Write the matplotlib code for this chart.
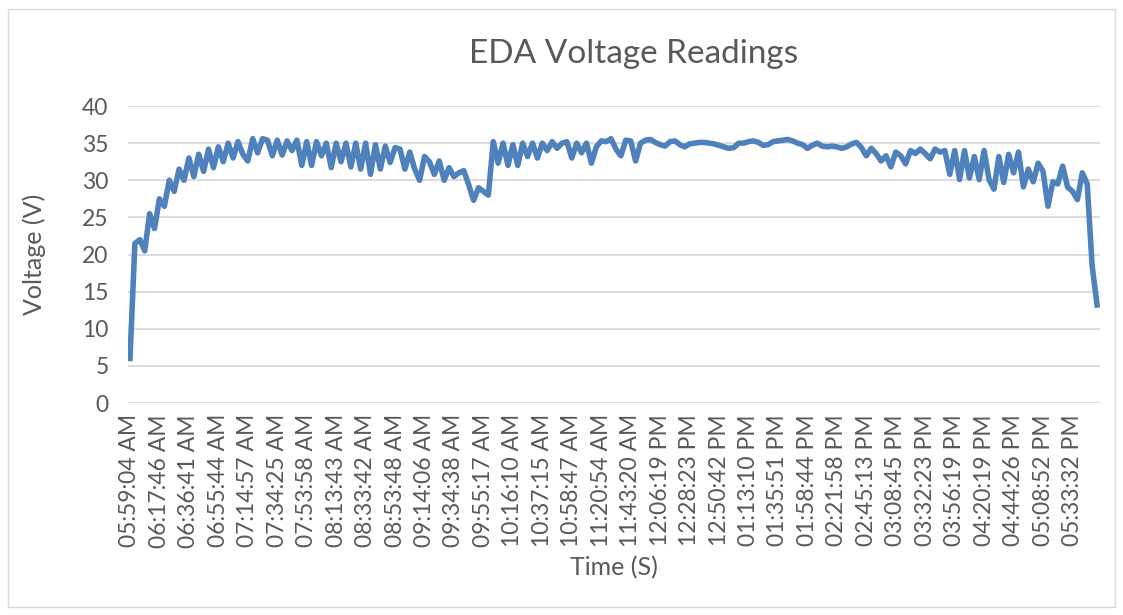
import matplotlib
matplotlib.use("Agg")
import matplotlib.pyplot as plt
from matplotlib.patches import Rectangle

# EDA readings, one value per sample
voltage = [
    6, 21.5, 22, 20.5, 25.5, 23.5, 27.5, 26.5, 30, 28.5,
    31.5, 30, 33, 30.5, 33.5, 31.2, 34.2, 31.7, 34.5, 32.5,
    35, 33, 35.2, 33.5, 32.6, 35.6, 33.7, 35.6, 35.4, 33.3,
    35.4, 33.4, 35.3, 34, 35.4, 32, 35.2, 32, 35.2, 33.3,
    35, 31.7, 35, 32.5, 35, 31.8, 35, 31.5, 35, 30.8,
    34.8, 31.5, 34.6, 32.4, 34.4, 34.2, 31.5, 33.8, 31.5, 30,
    33.2, 32.5, 30.8, 32.6, 30, 31.7, 30.5, 31, 31.3, 29.4,
    27.3, 29, 28.5, 28, 35.2, 32.3, 35, 32, 34.8, 32,
    35, 33.2, 35, 33, 35, 34, 35.2, 34.3, 35, 35.2,
    33, 35, 33.7, 35, 32.3, 34.5, 35.3, 35.2, 35.6, 34.2,
    33.3, 35.4, 35.3, 32.6, 35, 35.4, 35.5, 35.1, 34.8, 34.6,
    35.2, 35.3, 34.8, 34.5, 34.9, 35, 35.1, 35.1, 35, 34.9,
    34.7, 34.5, 34.3, 34.4, 35, 35, 35.2, 35.3, 35.1, 34.7,
    34.8, 35.2, 35.3, 35.4, 35.5, 35.3, 35, 34.8, 34.3, 34.7,
    35, 34.6, 34.5, 34.6, 34.5, 34.3, 34.5, 34.9, 35.1, 34.4,
    33.3, 34.3, 33.6, 32.6, 33.3, 31.8, 33.8, 33.3, 32.2, 34,
    33.6, 34.2, 33.6, 32.9, 34.2, 33.8, 34, 30.8, 34, 30.1,
    34, 30.3, 33.2, 30.1, 34, 30.1, 28.8, 33.2, 29.7, 33.5,
    31, 33.8, 29.1, 31.5, 29.8, 32.3, 31.2, 26.5, 29.8, 29.5,
    31.9, 29.1, 28.5, 27.4, 31, 29.5, 18.5, 13.2,
]

time_labels = [
    "05:59:04 AM", "06:17:46 AM", "06:36:41 AM", "06:55:44 AM", "07:14:57 AM",
    "07:34:25 AM", "07:53:58 AM", "08:13:43 AM", "08:33:42 AM", "08:53:48 AM",
    "09:14:06 AM", "09:34:38 AM", "09:55:17 AM", "10:16:10 AM", "10:37:15 AM",
    "10:58:47 AM", "11:20:54 AM", "11:43:20 AM", "12:06:19 PM", "12:28:23 PM",
    "12:50:42 PM", "01:13:10 PM", "01:35:51 PM", "01:58:44 PM", "02:21:58 PM",
    "02:45:13 PM", "03:08:45 PM", "03:32:23 PM", "03:56:19 PM", "04:20:19 PM",
    "04:44:26 PM", "05:08:52 PM", "05:33:32 PM",
]
label_step = 6

plt.rcParams['font.family'] = ['Lato', 'DejaVu Sans']
grey = '#595959'

fig = plt.figure(figsize=(11.23, 6.15), dpi=100)
ax = fig.add_axes([0.114, 0.3447, 0.8655, 0.4829])

x = list(range(len(voltage)))
ax.plot(x, voltage, color='#4f81bd', lw=4, solid_joinstyle='round')

ax.set_ylim(0, 40)
ax.set_yticks(range(0, 41, 5))
ax.set_xlim(-0.4, len(voltage) - 0.4)
ax.set_xticks(range(0, len(time_labels) * label_step, label_step))
ax.set_xticklabels(time_labels, rotation=90)
ax.tick_params(axis='both', length=0, colors=grey, labelsize=16.5)
ax.tick_params(axis='y', pad=14)
ax.tick_params(axis='x', pad=8)
ax.grid(axis='y', color='#d9d9d9', lw=1.3)
ax.set_axisbelow(True)
for s in ax.spines.values():
    s.set_visible(False)

ax.set_title('EDA Voltage Readings', fontsize=24, color=grey, pad=31, x=0.52)
ax.set_ylabel('Voltage (V)', fontsize=18, color=grey, labelpad=26)
ax.set_xlabel('Time (S)', fontsize=18, color=grey, labelpad=6)

fig.patches.append(Rectangle((8 / 1123, 8 / 615), 1107 / 1123, 598 / 615,
                             transform=fig.transFigure, fill=False,
                             edgecolor='#d9d9d9', lw=1))

fig.savefig('out.png', dpi=100)
